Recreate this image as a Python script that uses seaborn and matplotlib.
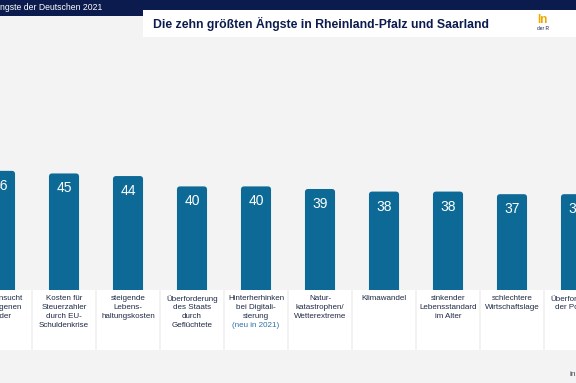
import matplotlib
matplotlib.use("Agg")
import matplotlib.pyplot as plt
from matplotlib.patches import FancyBboxPatch, Rectangle
import pandas as pd
import seaborn as sns

# Daten
aengste = [
    "Drogensucht\nder eigenen\nKinder",
    "Kosten für\nSteuerzahler\ndurch EU-\nSchuldenkrise",
    "steigende\nLebens-\nhaltungskosten",
    "Überforderung\ndes Staats\ndurch\nGeflüchtete",
    "Hinterherhinken\nbei Digitali-\nsierung",
    "Natur-\nkatastrophen/\nWetterextreme",
    "Klimawandel",
    "sinkender\nLebensstandard\nim Alter",
    "schlechtere\nWirtschaftslage",
    "Überforderung\nder Politiker",
]
prozent = [46, 45, 44, 40, 40, 39, 38, 38, 37, 37]
neu_2021 = [False, False, False, False, True, False, False, False, False, False]

df = pd.DataFrame({"Angst": aengste, "Prozent": prozent})

W, H = 576, 383
BG = "#f3f3f3"
NAVY = "#0c1b4d"
BLAU = "#0d6a97"
PX_Y = 2.59       # Pixel je Prozentpunkt
BASE = 290        # Pixelzeile der Nulllinie

sns.set_theme(style="white")
plt.rcParams["font.family"] = ["Liberation Sans", "DejaVu Sans"]

fig = plt.figure(figsize=(W / 100, H / 100), dpi=100, facecolor=BG)
ax = fig.add_axes([0, 0, 1, 1])
ax.set_facecolor(BG)

sns.barplot(data=df, x="Angst", y="Prozent", color=BLAU, width=0.47,
            saturation=1, ax=ax)

ax.set_xlim(0, len(aengste) - 1)
ax.set_ylim((BASE - H) / PX_Y, BASE / PX_Y)
ax.axis("off")

def py(pix):
    # Pixelzeile (von oben) -> y-Datenwert
    return (BASE - pix) / PX_Y

# Balken mit abgerundeten Ecken ersetzen
aspect = 64 / PX_Y
for p in list(ax.patches):
    x, w, h = p.get_x(), p.get_width(), p.get_height()
    ax.add_patch(FancyBboxPatch((x, -3), w, h + 3,
                                boxstyle="round,pad=0,rounding_size=0.05",
                                mutation_aspect=aspect, fc=BLAU, ec="none",
                                zorder=2))
    p.remove()

for i, (txt, v) in enumerate(zip(aengste, prozent)):
    ax.text(i, v - 5.8, str(v), ha="center", va="center", color="white",
            fontsize=10, zorder=4)
    # weiße Beschriftungsbox
    ax.add_patch(Rectangle((i - 0.485, py(350)), 0.97, py(290) - py(350),
                           fc="white", ec="none", zorder=3))
    lines = txt.split("\n")
    if neu_2021[i]:
        lines.append("(neu in 2021)")
    for k, line in enumerate(lines):
        col = "#2a72a8" if line == "(neu in 2021)" else "#1e2a44"
        ax.text(i, py(295 + 9 * k), line, ha="center", va="top",
                fontsize=5.8, color=col, zorder=4)

# Kopfzeile
def fx(px):
    return px / W

def fy(pix):
    return 1 - pix / H

fig.add_artist(Rectangle((0, fy(16)), 1, 16 / H, transform=fig.transFigure,
                         fc=NAVY, ec="none", zorder=1))
fig.text(fx(0), fy(7.5), "ngste der Deutschen 2021", color="white",
         fontsize=6.2, ha="left", va="center")
fig.add_artist(Rectangle((fx(143), fy(37)), 1 - fx(143), 27 / H,
                         transform=fig.transFigure, fc="white", ec="none",
                         zorder=2))
fig.text(fx(321), fy(23.5), "Die zehn größten Ängste in Rheinland-Pfalz und Saarland",
         color=NAVY, fontsize=8.8, fontweight="bold", ha="center", va="center",
         zorder=3)
fig.text(fx(537), fy(20), "In", color="#f0a800", fontsize=8.5,
         fontweight="bold", ha="left", va="center", zorder=3)
fig.text(fx(537), fy(29), "der R", color=NAVY, fontsize=3.5,
         ha="left", va="center", zorder=3)
fig.text(fx(569), fy(375), "in", color="#444c5c", fontsize=6,
         ha="left", va="center")

fig.savefig("out.png", dpi=100, facecolor=BG)
